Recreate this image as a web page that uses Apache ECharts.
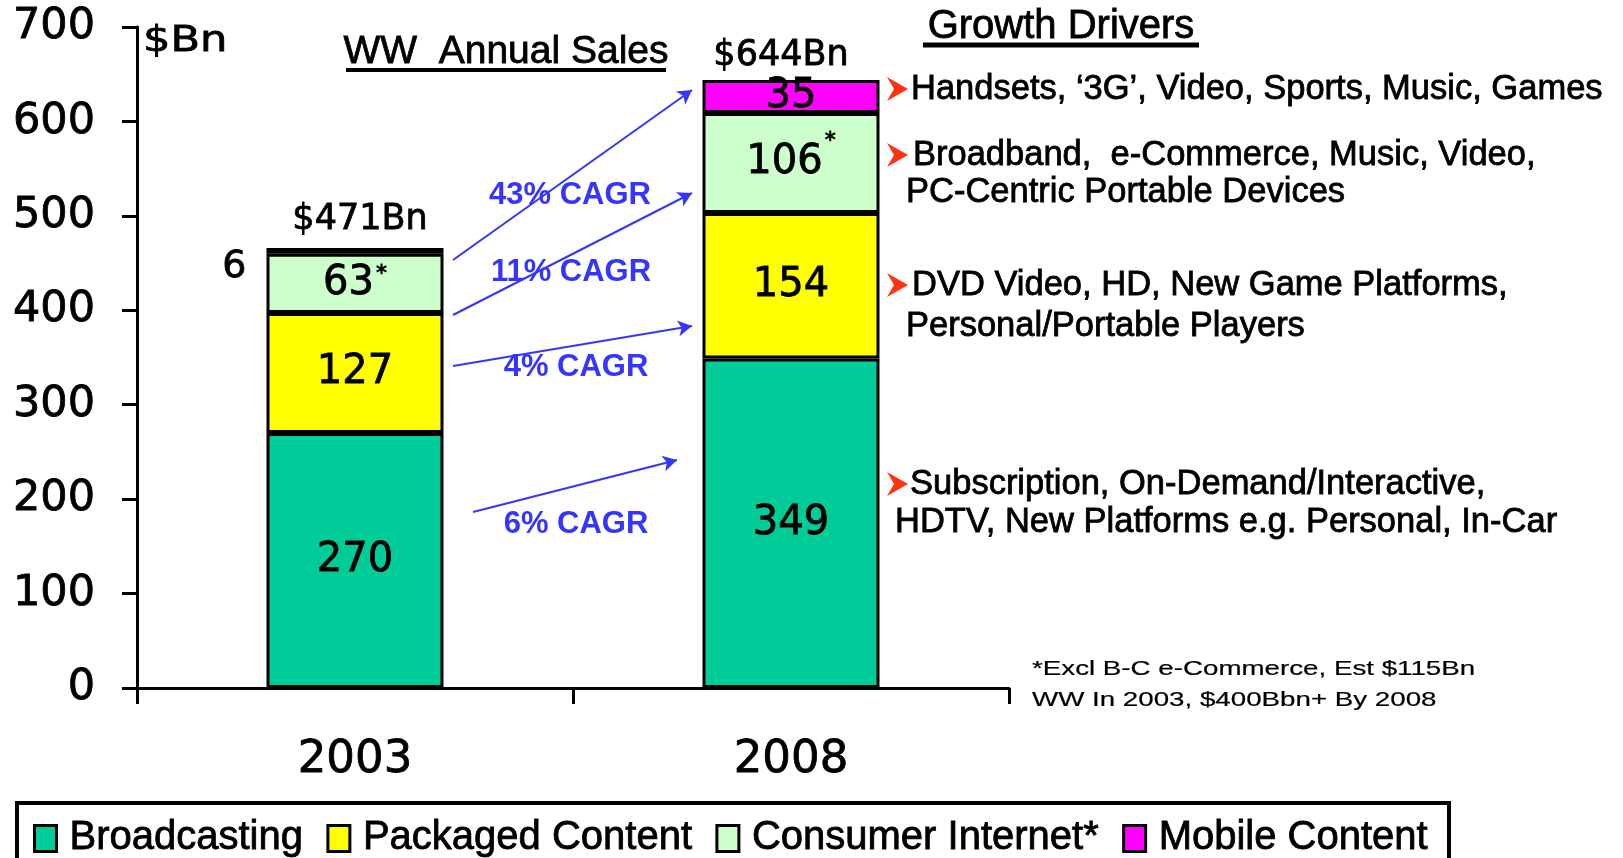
<!DOCTYPE html>
<html>
<head>
<meta charset="utf-8">
<script src="https://cdn.jsdelivr.net/npm/echarts@6/dist/echarts.min.js"></script>
<style>
html,body{margin:0;padding:0;background:#fff;}
#chart{width:1623px;height:858px;}
</style>
</head>
<body>
<div id="chart"></div>
<script>
// ---------- data ----------
const categories = ['2003', '2008'];
const seriesNames = ['Broadcasting', 'Packaged Content', 'Consumer Internet*', 'Mobile Content'];
const broadcasting = [270, 349];
const packagedContent = [127, 154];
const consumerInternet = [63, 106];
const mobileContent = [6, 35];
const totals = [471, 644];
const yTicks = [0, 100, 200, 300, 400, 500, 600, 700];
const cagrLabels = ['43% CAGR', '11% CAGR', '4% CAGR', '6% CAGR'];
const driverLines = [
  'Handsets, \u20183G\u2019, Video, Sports, Music, Games',
  'Broadband,  e-Commerce, Music, Video,',
  'PC-Centric Portable Devices',
  'DVD Video, HD, New Game Platforms,',
  'Personal/Portable Players',
  'Subscription, On-Demand/Interactive,',
  'HDTV, New Platforms e.g. Personal, In-Car'
];
const footnoteLines = ['*Excl B-C e-Commerce, Est $115Bn', 'WW In 2003, $400Bbn+ By 2008'];

// ---------- styling ----------
const SANS = "'Liberation Sans', Arial, sans-serif";
const VERD = "'DejaVu Sans', Verdana, sans-serif";
const colors = ['#00CC99', '#FFFF00', '#CCFFCC', '#FF00FF'];
const BLUE = '#3535FF';
const INK = '#000';
const border = {borderColor: '#000', borderWidth: 3};
const heavy = {textBorderColor: INK, textBorderWidth: 0.8};

const chart = echarts.init(document.getElementById('chart'), null, {renderer: 'canvas'});

const labelBase = Object.assign({show: true, position: 'inside', color: INK, fontFamily: VERD, fontSize: 40}, heavy);

function barSeries(name, values, idx, extra) {
  return Object.assign({
    name: name,
    type: 'bar',
    stack: 'total',
    barWidth: 177,
    itemStyle: Object.assign({color: colors[idx]}, border),
    label: labelBase,
    data: values
  }, extra || {});
}

const consumerData = consumerInternet.map((v, i) => ({
  value: v,
  label: {formatter: i === 0 ? '{v|{c}}{s|*}' : '{v|{c}}{s2|*}'}
}));
const mobileData = mobileContent.map((v, i) => i === 0
  ? {value: v, itemStyle: {color: '#000'}, label: {position: 'left', distance: 20, offset: [0, 16], fontSize: 38}}
  : {value: v});
const totalOffsets = [[5, 0], [-10, 0]];
const totalData = totals.map((v, i) => ({value: v, label: {offset: totalOffsets[i]}}));

// arrows (annotation, pixel positions)
const arrows = [
  [[453, 260], [692, 90]],
  [[453, 315], [692, 193]],
  [[453, 366], [692, 326]],
  [[473, 512], [677, 460]]
];
const cagrPos = [[570, 195], [571, 272], [576, 367], [576, 524]];
const driverPos = [[911, 89], [913, 155], [906, 192], [912, 285], [906, 326], [910, 484], [895, 522]];
const bulletY = [89, 155, 285, 484];

function txt(x, y, text, font, align, extra, lw) {
  return Object.assign({type: 'text', x: x, y: y, style: {
    text: text, font: font, fill: INK, stroke: INK, lineWidth: lw == null ? 0.8 : lw,
    textAlign: align, textVerticalAlign: 'middle', align: align, verticalAlign: 'middle'
  }}, extra || {});
}

const graphics = [];
graphics.push(txt(506, 52, 'WW  Annual Sales', '39px ' + SANS, 'center'));
graphics.push({type: 'line', shape: {x1: 346, y1: 70, x2: 666, y2: 70}, style: {stroke: '#000', lineWidth: 4}});
graphics.push(txt(1061, 27, 'Growth Drivers', '40px ' + SANS, 'center'));
graphics.push({type: 'line', shape: {x1: 923, y1: 45, x2: 1199, y2: 45}, style: {stroke: '#000', lineWidth: 5}});
graphics.push(txt(143, 42, '$Bn', '36px ' + VERD, 'left', {scaleX: 1.2}));
cagrLabels.forEach((t, i) => {
  graphics.push({type: 'text', x: cagrPos[i][0], y: cagrPos[i][1], style: {
    text: t, font: 'bold 31px ' + SANS, fill: BLUE,
    textAlign: 'center', textVerticalAlign: 'middle', align: 'center', verticalAlign: 'middle'}});
});
driverLines.forEach((t, i) => {
  graphics.push(txt(driverPos[i][0], driverPos[i][1], t, '34.5px ' + SANS, 'left'));
});
bulletY.forEach(y => {
  graphics.push({type: 'polygon', x: 887, y: y, shape: {points: [[0, -12], [21, 0], [0, 12], [7, 0]]}, style: {fill: '#FF3311'}});
});
footnoteLines.forEach((t, i) => {
  graphics.push(txt(1032, 669 + i * 31, t, '21px ' + SANS, 'left', {scaleX: 1.32}, 0.2));
});
graphics.push({type: 'rect', shape: {x: 17, y: 803, width: 1432, height: 90}, style: {fill: 'none', stroke: '#000', lineWidth: 4}});

const option = {
  animation: false,
  backgroundColor: '#fff',
  grid: {left: 137, right: 614, top: 27, bottom: 170, containLabel: false},
  xAxis: {
    type: 'category',
    data: categories,
    axisLine: {lineStyle: {color: '#000', width: 3}},
    axisTick: {show: true, length: 16, lineStyle: {color: '#000', width: 3}},
    axisLabel: Object.assign({margin: 50, color: INK, fontFamily: VERD, fontSize: 45}, heavy)
  },
  yAxis: {
    type: 'value',
    min: 0, max: 700, interval: 100,
    axisLine: {show: true, lineStyle: {color: '#000', width: 3}},
    axisTick: {show: true, length: 15, lineStyle: {color: '#000', width: 3}},
    splitLine: {show: false},
    axisLabel: Object.assign({margin: 42, color: INK, fontFamily: VERD, fontSize: 43,
      formatter: v => yTicks.includes(v) ? String(v) : ''}, heavy)
  },
  legend: {
    data: seriesNames,
    left: 33, top: 818,
    padding: 0,
    itemGap: 23,
    itemWidth: 22, itemHeight: 26,
    icon: 'rect',
    itemStyle: {borderColor: '#000', borderWidth: 3},
    textStyle: Object.assign({fontFamily: SANS, fontSize: 40, color: INK, padding: [0, 0, 0, 8]}, heavy)
  },
  graphic: graphics,
  series: [
    barSeries(seriesNames[0], broadcasting, 0),
    barSeries(seriesNames[1], packagedContent, 1),
    barSeries(seriesNames[2], consumerData, 2, {
      label: Object.assign({}, labelBase, {
        rich: {
          v: Object.assign({fontFamily: VERD, fontSize: 40, color: INK}, heavy),
          s: Object.assign({fontFamily: VERD, fontSize: 22, color: INK, verticalAlign: 'top', padding: [0, 0, 0, 2]}, heavy),
          s2: Object.assign({fontFamily: VERD, fontSize: 22, color: INK, verticalAlign: 'top', padding: [0, 0, 44, 2]}, heavy)
        }
      })
    }),
    barSeries(seriesNames[3], mobileData, 3),
    {
      name: 'Total',
      type: 'scatter',
      symbolSize: 0,
      itemStyle: {opacity: 1},
      data: totalData,
      label: Object.assign({show: true, position: 'top', distance: 6, color: INK, opacity: 1,
        fontFamily: VERD, fontSize: 35, formatter: p => '$' + p.value + 'Bn'}, heavy),
      markLine: {
        silent: true,
        symbol: ['none', 'arrow'],
        symbolSize: [12, 14],
        label: {show: false},
        lineStyle: {color: BLUE, width: 2, type: 'solid', opacity: 1},
        data: arrows.map(a => [{x: a[0][0], y: a[0][1]}, {x: a[1][0], y: a[1][1]}])
      }
    }
  ]
};
chart.setOption(option);
</script>
</body>
</html>
